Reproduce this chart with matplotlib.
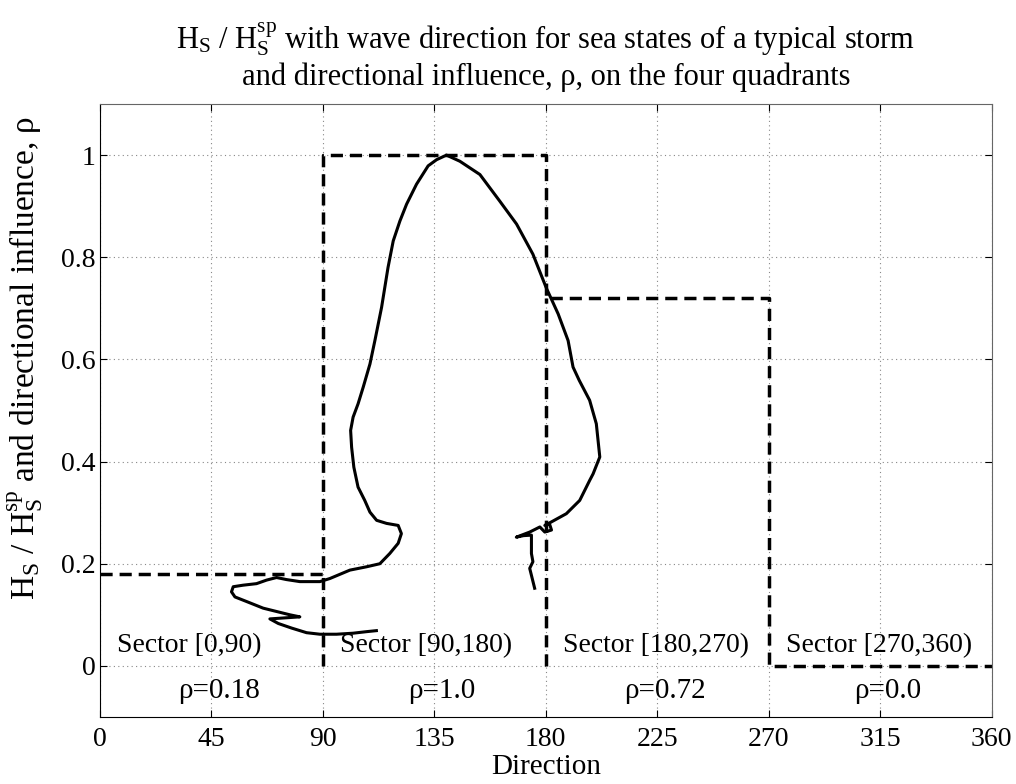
import matplotlib
matplotlib.use("Agg")
import matplotlib.pyplot as plt

plt.rcParams['font.family'] = ['Liberation Serif', 'DejaVu Serif']
plt.rcParams['mathtext.fontset'] = 'custom'
plt.rcParams['mathtext.rm'] = 'Liberation Serif'
plt.rcParams['mathtext.it'] = 'Liberation Serif:italic'

# storm trajectory: wave direction (deg) vs Hs / Hs_peak
direction = [175.5, 173.5, 174.8, 174.2, 174.2, 171.0, 168.1, 173.5, 177.6, 179.6,
             182.3, 181.5, 179.6, 182.3, 188.3, 193.7, 197.7, 199.1, 201.8, 200.4,
             197.7, 193.5, 191.0, 189.0, 185.0, 180.2, 174.8, 168.2, 161.4, 153.4,
             145.3, 139.9, 135.9, 132.5, 127.8, 123.8, 121.1, 118.4, 116.3, 113.7,
             111.0, 109.0, 106.3, 104.2, 102.2, 101.2, 101.6, 102.5, 104.2, 106.9,
             109.0, 111.7, 115.7, 120.4, 121.7, 120.4, 117.0, 113.0, 107.6, 100.9,
             92.8, 88.8, 80.7, 75.3, 71.3, 67.3, 63.2, 57.8, 53.8, 53.1,
             54.5, 59.2, 65.9, 76.7, 80.7, 68.6, 72.0, 77.4, 83.4, 88.8,
             95.5, 102.2, 107.6, 111.6]
hs_ratio = [0.152, 0.191, 0.204, 0.220, 0.256, 0.255, 0.252, 0.262, 0.272, 0.262,
            0.266, 0.278, 0.275, 0.282, 0.298, 0.324, 0.363, 0.376, 0.409, 0.474,
            0.520, 0.559, 0.585, 0.637, 0.689, 0.740, 0.806, 0.865, 0.910, 0.962,
            0.988, 1.000, 0.991, 0.979, 0.943, 0.904, 0.871, 0.832, 0.780, 0.702,
            0.637, 0.591, 0.546, 0.513, 0.487, 0.461, 0.428, 0.389, 0.350, 0.324,
            0.301, 0.285, 0.279, 0.275, 0.259, 0.240, 0.220, 0.200, 0.194, 0.1875,
            0.171, 0.165, 0.165, 0.169, 0.173, 0.168, 0.161, 0.158, 0.155, 0.145,
            0.135, 0.126, 0.113, 0.100, 0.096, 0.092, 0.083, 0.074, 0.065, 0.062,
            0.062, 0.064, 0.067, 0.069]

# directional influence per quadrant
sector_start = [0, 90, 180, 270]
sector_end = [90, 180, 270, 360]
rho = [0.18, 1.0, 0.72, 0.0]
sector_labels = ['Sector [0,90)', 'Sector [90,180)', 'Sector [180,270)', 'Sector [270,360)']
rho_labels = ['\u03c1=0.18', '\u03c1=1.0', '\u03c1=0.72', '\u03c1=0.0']

fig = plt.figure(figsize=(10.16, 7.84), dpi=100)
ax = fig.add_axes([0.0984, 0.0855, 0.8776, 0.7818])

dash = (0, (3.5, 2))
# step outline of rho
sx, sy = [], []
for a, b, r in zip(sector_start, sector_end, rho):
    sx += [a, b]
    sy += [r, r]
ax.plot(sx, sy, color='k', lw=2.5, linestyle=dash)
# sector borders down to zero
for i in range(1, len(sector_start)):
    top = min(rho[i - 1], rho[i])
    ax.plot([sector_start[i], sector_start[i]], [0, top], color='k', lw=2.5, linestyle=dash)

ax.plot(direction, hs_ratio, color='k', lw=2.2, solid_joinstyle='round')

for a, lab, rl in zip(sector_start, sector_labels, rho_labels):
    ax.text(a + 7, 0.04, lab, fontsize=20, ha='left', va='center')
    ax.text(a + 48, -0.05, rl, fontsize=21, ha='center', va='center')

ax.set_xlim(0, 360)
ax.set_ylim(-0.1, 1.1)
ax.set_xticks(range(0, 361, 45))
ax.set_yticks([0, 0.2, 0.4, 0.6, 0.8, 1.0])
ax.set_yticklabels(['0', '0.2', '0.4', '0.6', '0.8', '1'])
ax.tick_params(direction='in', top=True, right=True, labelsize=20, length=5)
ax.tick_params(axis='x', pad=7)
ax.tick_params(axis='y', pad=3)
ax.grid(True, color='#888888', linestyle=(0, (1, 3)), lw=0.8)
for s in ['top', 'right']:
    ax.spines[s].set_color('#666666')

ax.set_xlabel('Direction', fontsize=21, labelpad=2)
ax.set_ylabel('$\\mathregular{H_S}$ / $\\mathregular{H_S^{sp}}$ and directional influence, \u03c1',
              fontsize=24)
ax.yaxis.set_label_coords(-0.062, 0.585)
ax.set_title('$\\mathregular{H_S}$ / $\\mathregular{H_S^{sp}}$ with wave direction for sea states of a typical storm'
             '\nand directional influence, \u03c1, on the four quadrants',
             fontsize=22, linespacing=1.2, pad=14)

fig.savefig('out.png', dpi=100)
